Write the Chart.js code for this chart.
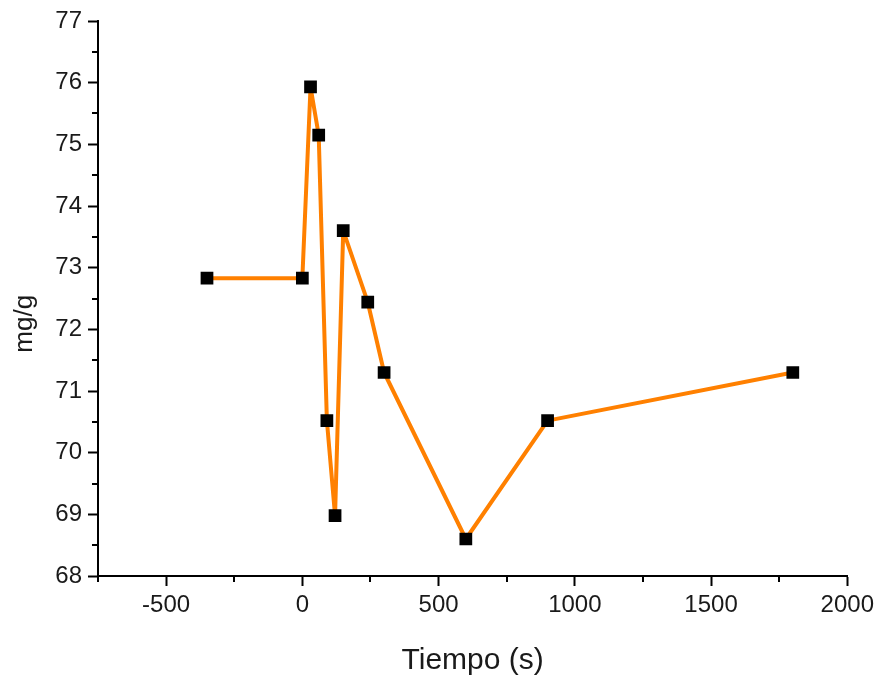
<!DOCTYPE html>
<html>
<head>
<meta charset="utf-8">
<script src="https://cdn.jsdelivr.net/npm/chart.js@4"></script>
<style>
  html, body { margin: 0; padding: 0; background: #fff; }
  #wrap { width: 879px; height: 682px; }
</style>
</head>
<body>
<div id="wrap"><canvas id="chart"></canvas></div>
<script>
// data
const tiempo = [-350, 0, 30, 60, 90, 120, 150, 240, 300, 600, 900, 1800];
const mgPorG = [72.83, 72.83, 75.93, 75.15, 70.52, 68.98, 73.6, 72.44, 71.3, 68.6, 70.52, 71.3];

// axis ticks
const xTicks = [-500, 0, 500, 1000, 1500, 2000];
const xMinor = [-750, -250, 250, 750, 1250, 1750];
const yTicks = [68, 69, 70, 71, 72, 73, 74, 75, 76, 77];
const yMinor = [68.5, 69.5, 70.5, 71.5, 72.5, 73.5, 74.5, 75.5, 76.5];

const FONT = "'Liberation Sans', Arial, sans-serif";

// small outward minor ticks
const minorTicks = {
  id: "minorTicks",
  afterDraw(chart) {
    const { ctx, scales: { x, y } } = chart;
    ctx.save();
    ctx.strokeStyle = "#000";
    ctx.lineWidth = 2;
    ctx.beginPath();
    xMinor.forEach(v => {
      const px = Math.round(x.getPixelForValue(v));
      ctx.moveTo(px, x.top);
      ctx.lineTo(px, x.top + 6);
    });
    yMinor.forEach(v => {
      const py = Math.round(y.getPixelForValue(v));
      ctx.moveTo(y.right, py);
      ctx.lineTo(y.right - 6, py);
    });
    ctx.stroke();
    ctx.restore();
  }
};

new Chart(document.getElementById("chart"), {
  type: "line",
  data: {
    datasets: [{
      data: tiempo.map((t, i) => ({ x: t, y: mgPorG[i] })),
      borderColor: "#ff8000",
      borderWidth: 4,
      borderJoinStyle: "round",
      pointStyle: "rect",
      pointRadius: 9,
      pointBackgroundColor: "#000",
      pointBorderWidth: 0,
      tension: 0
    }]
  },
  options: {
    responsive: true,
    maintainAspectRatio: false,
    animation: false,
    layout: { padding: { top: 21, right: 30, left: 0, bottom: 0 } },
    plugins: { legend: { display: false }, tooltip: { enabled: false } },
    scales: {
      x: {
        type: "linear",
        min: -750,
        max: 2000,
        afterBuildTicks: s => { s.ticks = xTicks.map(v => ({ value: v })); },
        afterFit: s => { s.height = 106; },
        grid: { drawOnChartArea: false, tickLength: 10, tickWidth: 2, tickColor: "#000" },
        border: { color: "#000", width: 2 },
        ticks: {
          color: "#1a1a1a", padding: 5, maxRotation: 0,
          font: { family: FONT, size: 24 },
          callback: v => String(v)
        },
        title: {
          display: true,
          text: "Tiempo (s)",
          color: "#1a1a1a",
          font: { family: FONT, size: 30 },
          padding: { top: 4, bottom: 3 }
        }
      },
      y: {
        min: 68,
        max: 77,
        afterBuildTicks: s => { s.ticks = yTicks.map(v => ({ value: v })); },
        afterFit: s => { s.width = 98; },
        grid: { drawOnChartArea: false, tickLength: 10, tickWidth: 2, tickColor: "#000" },
        border: { color: "#000", width: 2 },
        ticks: {
          color: "#1a1a1a", padding: 6,
          font: { family: FONT, size: 24 },
          callback: v => String(v)
        },
        title: {
          display: true,
          text: "mg/g       ",
          color: "#1a1a1a",
          font: { family: FONT, size: 26 },
          padding: { top: 9, bottom: 0 }
        }
      }
    }
  },
  plugins: [minorTicks]
});
</script>
</body>
</html>
